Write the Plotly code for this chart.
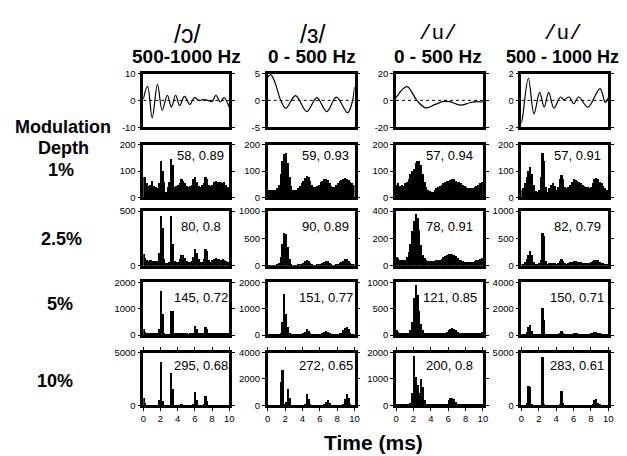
import plotly.graph_objects as go
from plotly.subplots import make_subplots

# ---------------- data ----------------
# bin centres (ms), 0.2 ms bins from 0 to 10 ms
bins = [round(0.1 + 0.2 * i, 2) for i in range(50)]

# waveforms (row 1): time (ms) / amplitude at read-off turning points
wave_o_t = [0, 0.5, 1.04, 1.65, 2.2, 2.8, 3.27, 3.77, 4.23, 4.8, 5.4, 5.96, 6.5, 7.0, 7.5, 8.0, 8.46, 8.96, 9.4, 10]
wave_o_v = [0.5, 5.2, -6.5, 6.0, -3.7, 1.9, -2.5, 1.9, -1.9, 1.5, -1.5, 1.0, 0.0, 0.3, 0.0, -0.5, 1.9, -0.6, 1.0, -2.5]
wave_e_t = [0, 0.35, 0.8, 1.5, 2.08, 3.2, 4.5, 5.66, 6.8, 7.9, 9.2, 9.7, 10]
wave_e_v = [4.3, 4.8, 3.5, 0.0, -1.5, 0.9, -2.1, 0.5, -2.1, 0.6, -2.3, -0.5, 2.5]
wave_u1_t = [0, 1.25, 2.4, 3.4, 4.5, 5.5, 6.2, 7.4, 8.5, 9.3, 10]
wave_u1_v = [2.0, 10.2, 0.0, -5.6, -3.0, -0.8, -1.0, -3.6, -1.8, -1.0, -1.2]
wave_u2_t = [0, 0.15, 0.8, 1.45, 2.1, 2.62, 3.14, 3.74, 4.5, 4.9, 5.5, 6.0, 6.6, 7.65, 9.05, 9.65, 10]
wave_u2_v = [-1.7, -1.2, 1.65, -1.0, 0.6, -0.5, 0.6, -0.58, 0.25, 0.05, 0.25, -0.25, 0.25, -0.5, 0.88, -0.15, 0.2]

# period histograms, /ɔ/ 500-1000 Hz
h_o_1 = [80, 78, 55, 45, 50, 65, 45, 40, 38, 55,
         140, 100, 60, 20, 40, 60, 148, 125, 40, 45,
         50, 55, 70, 65, 55, 45, 42, 45, 50, 70,
         78, 60, 45, 42, 50, 55, 78, 72, 48, 45,
         50, 58, 62, 60, 58, 60, 55, 58, 50, 40]
h_o_25 = [110, 70, 55, 40, 50, 45, 45, 40, 40, 120,
          450, 340, 60, 25, 25, 30, 450, 200, 40, 30,
          35, 60, 100, 95, 70, 40, 30, 35, 40, 80,
          150, 120, 60, 35, 35, 60, 150, 130, 50, 35,
          50, 60, 70, 65, 60, 55, 60, 55, 45, 35]
h_o_5 = [220, 120, 50, 40, 40, 40, 45, 40, 40, 200,
         1650, 800, 50, 25, 20, 25, 900, 900, 60, 30,
         30, 40, 80, 70, 40, 30, 25, 30, 40, 80,
         320, 220, 60, 30, 30, 60, 280, 220, 60, 30,
         40, 50, 60, 55, 50, 45, 40, 40, 35, 30]
h_o_10 = [700, 300, 60, 40, 40, 40, 40, 40, 40, 500,
          4100, 400, 60, 30, 20, 30, 3100, 1600, 60, 30,
          30, 40, 80, 60, 40, 30, 25, 30, 40, 150,
          1300, 500, 60, 30, 30, 100, 900, 400, 60, 30,
          40, 50, 60, 55, 50, 45, 40, 40, 35, 30]

# /ɜ/ 0-500 Hz
h_e_1 = [30, 28, 28, 30, 30, 35, 50, 90, 140, 165,
         170, 130, 80, 45, 30, 28, 30, 35, 45, 55,
         65, 75, 82, 78, 65, 50, 42, 40, 45, 50,
         58, 65, 70, 72, 68, 55, 45, 40, 42, 48,
         55, 62, 68, 72, 75, 72, 68, 60, 55, 50]
h_e_25 = [10, 10, 10, 10, 10, 15, 40, 150, 400, 600,
          580, 350, 120, 30, 10, 10, 10, 15, 25, 30,
          40, 80, 100, 90, 50, 20, 10, 10, 15, 20,
          30, 45, 70, 90, 85, 50, 20, 10, 10, 15,
          25, 40, 60, 90, 115, 120, 90, 40, 20, 20]
h_e_5 = [10, 10, 10, 10, 10, 10, 20, 80, 500, 1550,
         800, 300, 60, 15, 10, 10, 10, 10, 15, 20,
         40, 100, 200, 150, 60, 15, 10, 10, 10, 15,
         20, 40, 90, 150, 120, 40, 15, 10, 10, 10,
         15, 30, 80, 160, 250, 280, 200, 60, 20, 15]
h_e_10 = [10, 10, 10, 10, 10, 10, 10, 1800, 2700, 100,
          300, 1300, 600, 50, 10, 10, 10, 10, 10, 10,
          20, 100, 900, 500, 100, 10, 10, 10, 10, 10,
          10, 20, 100, 300, 400, 200, 30, 10, 10, 10,
          10, 20, 50, 150, 500, 900, 600, 100, 20, 10]

# /u/ 0-500 Hz
h_u1_1 = [50, 55, 45, 50, 45, 55, 60, 70, 90, 100,
          110, 130, 140, 140, 125, 90, 60, 40, 30, 25,
          20, 22, 28, 35, 40, 45, 50, 55, 60, 62,
          65, 68, 72, 70, 65, 60, 58, 55, 50, 45,
          40, 38, 35, 35, 38, 40, 45, 50, 55, 60]
h_u1_25 = [60, 55, 45, 40, 40, 40, 60, 100, 160, 250,
           330, 380, 350, 260, 150, 80, 55, 40, 35, 35,
           35, 35, 35, 38, 40, 45, 50, 60, 70, 80,
           85, 85, 85, 80, 70, 55, 45, 40, 35, 30,
           30, 28, 28, 30, 30, 32, 38, 45, 50, 55]
h_u1_5 = [80, 60, 40, 30, 30, 30, 30, 40, 80, 250,
          700, 950, 750, 450, 200, 80, 40, 25, 20, 20,
          20, 20, 20, 20, 20, 20, 25, 30, 40, 60,
          90, 115, 120, 110, 80, 50, 30, 20, 20, 20,
          20, 20, 20, 20, 20, 20, 25, 30, 40, 45]
h_u1_10 = [50, 40, 30, 30, 30, 30, 30, 40, 100, 500,
           1900, 1100, 800, 500, 1000, 700, 200, 50, 30, 30,
           30, 30, 30, 30, 30, 30, 30, 30, 40, 80,
           200, 280, 300, 250, 150, 60, 30, 30, 30, 30,
           30, 30, 30, 30, 30, 30, 30, 30, 30, 30]

# /u/ 500-1000 Hz
h_u2_1 = [30, 35, 55, 80, 100, 115, 90, 50, 25, 20,
          30, 80, 170, 140, 40, 20, 35, 50, 55, 45,
          30, 40, 70, 85, 70, 40, 35, 40, 50, 60,
          70, 68, 65, 60, 55, 50, 45, 42, 40, 38,
          40, 55, 70, 75, 70, 60, 55, 45, 35, 30]
h_u2_25 = [20, 30, 60, 120, 200, 260, 200, 60, 30, 30,
           40, 100, 600, 550, 80, 30, 40, 50, 45, 40,
           30, 50, 90, 130, 90, 40, 35, 40, 60, 75,
           80, 78, 75, 70, 65, 55, 45, 40, 40, 50,
           60, 90, 105, 110, 95, 70, 50, 40, 30, 25]
h_u2_5 = [10, 20, 50, 200, 550, 750, 300, 50, 10, 10,
          20, 50, 2000, 1100, 50, 10, 20, 30, 30, 20,
          20, 40, 100, 250, 100, 30, 20, 20, 30, 50,
          60, 60, 55, 50, 45, 40, 35, 30, 30, 40,
          60, 120, 180, 200, 150, 80, 40, 20, 15, 10]
h_u2_10 = [10, 10, 50, 300, 1900, 1750, 200, 20, 10, 10,
           10, 20, 4600, 100, 10, 10, 10, 10, 10, 10,
           10, 20, 200, 1400, 300, 20, 10, 10, 10, 30,
           50, 60, 50, 40, 30, 20, 20, 20, 20, 20,
           30, 100, 500, 600, 300, 80, 20, 10, 10, 10]

# stats labels per panel
stats_o = ["58, 0.89", "80, 0.8", "145, 0.72", "295, 0.68"]
stats_e = ["59, 0.93", "90, 0.89", "151, 0.77", "272, 0.65"]
stats_u1 = ["57, 0.94", "78, 0.91", "121, 0.85", "200, 0.8"]
stats_u2 = ["57, 0.91", "82, 0.79", "150, 0.71", "283, 0.61"]

vowels = ["/ɔ/", "/ɜ/", "/u/", "/u/"]
bands = ["500-1000 Hz", "0 - 500 Hz", "0 - 500 Hz", "500 - 1000 Hz"]
depths = ["1%", "2.5%", "5%", "10%"]

wave_ranges = [10, 5, 20, 2]
hist_ranges = [[200, 500, 2000, 5000], [200, 1000, 2000, 4000],
               [200, 400, 1000, 2000], [200, 1000, 4000, 5000]]
hist_ticks = [[[0, 100, 200], [0, 500], [0, 1000, 2000], [0, 5000]],
              [[0, 100, 200], [0, 500, 1000], [0, 1000, 2000], [0, 2000, 4000]],
              [[0, 100, 200], [0, 200, 400], [0, 500, 1000], [0, 1000, 2000]],
              [[0, 100, 200], [0, 500, 1000], [0, 2000, 4000], [0, 5000]]]
x_ticks = [0, 2, 4, 6, 8, 10]

waves = [(wave_o_t, wave_o_v), (wave_e_t, wave_e_v), (wave_u1_t, wave_u1_v), (wave_u2_t, wave_u2_v)]
hists = [[h_o_1, h_o_25, h_o_5, h_o_10], [h_e_1, h_e_25, h_e_5, h_e_10],
         [h_u1_1, h_u1_25, h_u1_5, h_u1_10], [h_u2_1, h_u2_25, h_u2_5, h_u2_10]]
stats = [stats_o, stats_e, stats_u1, stats_u2]

# ---------------- layout geometry ----------------
W, H = 627, 456
col_px = [(134, 221), (260, 348), (390, 478), (517, 605)]
row_px = [(61, 116), (134, 188), (202, 258), (275, 329), (347, 401)]
stat_x = [0.67, 0.67, 0.62, 0.64]
stat_y = [0.8, 0.71, 0.71, 0.76]

FONT = "Liberation Sans, Arial, sans-serif"
MONO = "Liberation Mono, Courier New, monospace"

fig = make_subplots(rows=5, cols=4)

def axid(r, c):
    return r * 4 + c + 1

for c in range(4):
    t, v = waves[c]
    fig.add_trace(go.Scatter(x=[0, 10], y=[0, 0], mode="lines",
                             line=dict(color="black", width=1, dash="dot"),
                             hoverinfo="skip"), row=1, col=c + 1)
    fig.add_trace(go.Scatter(x=t, y=v, mode="lines",
                             line=dict(color="black", width=1.2, shape="spline", smoothing=1.0)),
                  row=1, col=c + 1)
    for r in range(4):
        fig.add_trace(go.Bar(x=bins, y=hists[c][r], width=0.2,
                             marker=dict(color="black", line=dict(width=0))),
                      row=r + 2, col=c + 1)

for r in range(5):
    for c in range(4):
        n = axid(r, c)
        xs = "" if n == 1 else str(n)
        x0, x1 = col_px[c]
        y0, y1 = row_px[r]
        xdom = [x0 / W, x1 / W]
        ydom = [1 - y1 / H, 1 - y0 / H]
        bottom = (r == 4)
        fig.layout["xaxis" + xs].update(
            domain=xdom, range=[0, 10], showline=True, mirror="ticks" if bottom else True,
            linecolor="black", linewidth=2.5, showgrid=False, zeroline=False,
            ticks="outside" if bottom else "", ticklen=3, tickwidth=1.2, tickcolor="black",
            tickvals=x_ticks, ticktext=[str(v) for v in x_ticks],
            showticklabels=bottom, tickfont=dict(family=FONT, size=9.5, color="black"))
        if r == 0:
            m = wave_ranges[c]
            yr = [-m, m]
            tv = [-m, 0, m]
            tt = ["-" + str(m), "0", str(m)]
        else:
            m = hist_ranges[c][r - 1]
            yr = [0, m]
            tv = hist_ticks[c][r - 1]
            tt = [str(v) for v in tv]
        fig.layout["yaxis" + xs].update(
            domain=ydom, range=yr, showline=True, mirror="ticks",
            linecolor="black", linewidth=2.5, showgrid=False, zeroline=False,
            ticks="outside", ticklen=3, tickwidth=1.2, tickcolor="black",
            tickvals=tv, ticktext=tt, fixedrange=True,
            tickfont=dict(family=FONT, size=9.5, color="black"))
        if r > 0:
            fig.add_annotation(text=stats[c][r - 1], xref="x" + xs + " domain", yref="y" + xs + " domain",
                               x=stat_x[c], y=stat_y[r - 1], xanchor="center", yanchor="middle",
                               showarrow=False, font=dict(family=FONT, size=13, color="black"))

# column titles
title_x = [178, 305, 433, 559]
band_size = [19, 19, 19, 18]
for c in range(4):
    is_u = vowels[c] == "/u/"
    fig.add_annotation(text=vowels[c], xref="paper", yref="paper", x=title_x[c] / W, y=1 - 20 / H,
                       xanchor="center", yanchor="middle", showarrow=False,
                       font=dict(family=MONO if is_u else FONT, size=21 if is_u else 25, color="black"))
    fig.add_annotation(text="<b>" + bands[c] + "</b>", xref="paper", yref="paper",
                       x=title_x[c] / W, y=1 - 44 / H, xanchor="center", yanchor="middle",
                       showarrow=False, font=dict(family=FONT, size=band_size[c], color="black"))

# row labels
row_labels = [("Modulation", 53, 116), ("Depth", 53, 137), (depths[0], 51, 160),
              (depths[1], 51, 231), (depths[2], 50, 297), (depths[3], 45, 376)]
for txt, px, py in row_labels:
    fig.add_annotation(text="<b>" + txt + "</b>", xref="paper", yref="paper", x=px / W, y=1 - py / H,
                       xanchor="center", yanchor="middle", showarrow=False,
                       font=dict(family=FONT, size=18, color="black"))

fig.add_annotation(text="<b>Time (ms)</b>", xref="paper", yref="paper", x=367 / W, y=1 - 439 / H,
                   xanchor="center", yanchor="middle", showarrow=False,
                   font=dict(family=FONT, size=21, color="black"))

fig.update_layout(width=W, height=H, margin=dict(l=0, r=0, t=0, b=0),
                  paper_bgcolor="white", plot_bgcolor="white", showlegend=False,
                  bargap=0, font=dict(family=FONT, color="black"))

fig.write_html("out.html")
